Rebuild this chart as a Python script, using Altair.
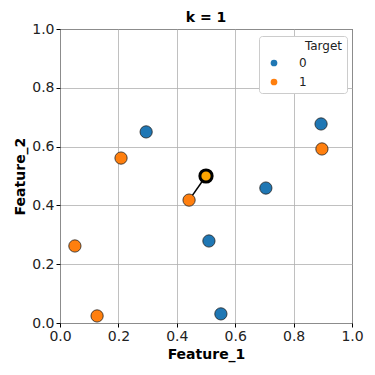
import altair as alt
import pandas as pd

# ---- data ----
feature1_class0 = [0.295, 0.894, 0.705, 0.510, 0.551]
feature2_class0 = [0.650, 0.677, 0.459, 0.279, 0.031]
feature1_class1 = [0.209, 0.051, 0.127, 0.442, 0.897]
feature2_class1 = [0.561, 0.262, 0.024, 0.418, 0.592]
query_point = [0.5, 0.5]
k = 1
targets = ["0", "1"]
colors = ["#1f77b4", "#ff7f0e"]
ticks = [0.0, 0.2, 0.4, 0.6, 0.8, 1.0]

df = pd.DataFrame({
    "Feature_1": feature1_class0 + feature1_class1,
    "Feature_2": feature2_class0 + feature2_class1,
    "Target": ["0"] * len(feature1_class0) + ["1"] * len(feature1_class1),
})
q = pd.DataFrame({"Feature_1": [query_point[0]], "Feature_2": [query_point[1]]})

# nearest neighbours of the query point
d = ((df["Feature_1"] - query_point[0]) ** 2 + (df["Feature_2"] - query_point[1]) ** 2) ** 0.5
nn = df.loc[d.nsmallest(k).index]
lines = []
for i, (_, r) in enumerate(nn.iterrows()):
    lines.append({"Feature_1": query_point[0], "Feature_2": query_point[1], "id": i, "o": 0})
    lines.append({"Feature_1": r["Feature_1"], "Feature_2": r["Feature_2"], "id": i, "o": 1})
ldf = pd.DataFrame(lines)

xs = alt.Scale(domain=[0, 1], nice=False)
ys = alt.Scale(domain=[0, 1], nice=False)
xax = alt.Axis(values=ticks, format=".1f", title="Feature_1")
yax = alt.Axis(values=ticks, format=".1f", title="Feature_2")

line = alt.Chart(ldf).mark_line(color="black", strokeWidth=1.5).encode(
    x=alt.X("Feature_1:Q", scale=xs, axis=xax),
    y=alt.Y("Feature_2:Q", scale=ys, axis=yax),
    detail="id:N",
    order="o:Q",
)

blank = "\u2800" * 4

points = alt.Chart(df).mark_circle(size=150, opacity=1, stroke="#222222", strokeWidth=0.8).encode(
    x=alt.X("Feature_1:Q", scale=xs, axis=xax),
    y=alt.Y("Feature_2:Q", scale=ys, axis=yax),
    color=alt.Color(
        "Target:N",
        scale=alt.Scale(domain=targets, range=colors),
        legend=alt.Legend(
            title="Target",
            orient="none",
            legendX=199,
            legendY=7,
            padding=5,
            strokeColor="#cccccc",
            fillColor="white",
            cornerRadius=3,
            titleFontSize=12,
            titleFontWeight="normal",
            titleColor="#222222",
            titlePadding=4,
            titleAnchor="end",
            labelFontSize=12,
            labelColor="#222222",
            labelExpr=f"datum.label + '{blank}'",
            symbolSize=45,
            symbolType="circle",
            symbolStrokeWidth=0,
            symbolOffset=4,
            labelOffset=19,
            rowPadding=7,
        ),
    ),
)

query = alt.Chart(q).mark_circle(size=150, opacity=1, color="#ffa500", stroke="black", strokeWidth=3).encode(
    x=alt.X("Feature_1:Q", scale=xs, axis=xax),
    y=alt.Y("Feature_2:Q", scale=ys, axis=yax),
)

chart = (
    alt.layer(line, points, query)
    .properties(
        width=292,
        height=294,
        title=alt.TitleParams("k = 1", fontSize=14, fontWeight="bold", font="DejaVu Sans", offset=-3, color="black"),
        autosize=alt.AutoSizeParams(type="none"),
        padding={"left": 52, "top": 21, "right": 15, "bottom": 44},
    )
    .configure_view(stroke="black", strokeWidth=1)
    .configure_axis(
        labelFont="DejaVu Sans",
        titleFont="DejaVu Sans",
        labelFontSize=14,
        titleFontSize=14,
        titleFontWeight="bold",
        labelColor="#222222",
        titleColor="black",
        grid=True,
        gridColor="#b0b0b0",
        gridWidth=0.8,
        domain=False,
        tickColor="black",
        tickSize=4,
        labelPadding=2,
        labelFlush=False,
    )
    .configure_axisX(titlePadding=4)
    .configure_axisY(titlePadding=4)
    .configure_legend(labelFont="DejaVu Sans", titleFont="DejaVu Sans")
)

chart.save("out.html", embed_options={"renderer": "svg", "actions": False})
